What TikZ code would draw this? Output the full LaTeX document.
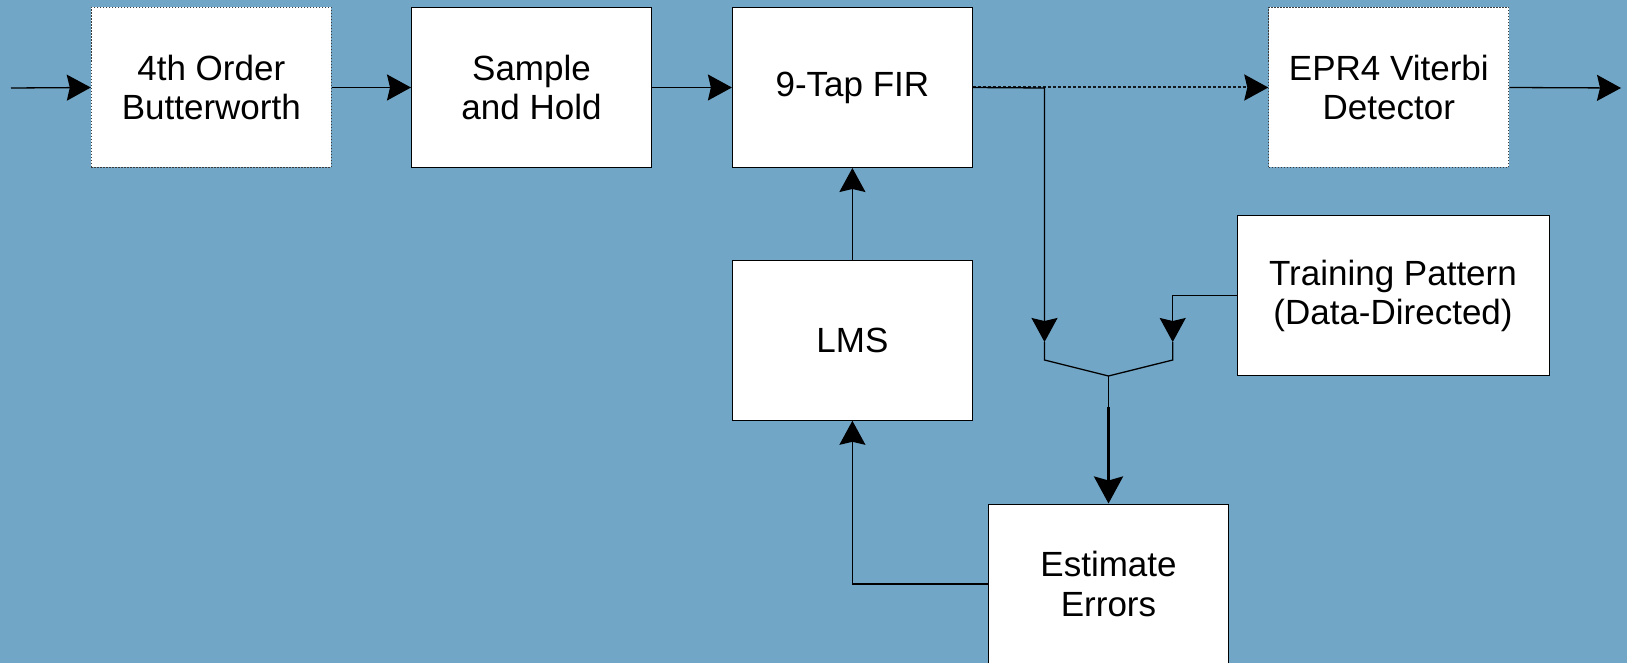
\documentclass[tikz,border=0pt]{standalone}
\usepackage{fontspec}
\newfontfamily\boxfont{Liberation Sans}
\usetikzlibrary{arrows.meta}
\definecolor{bgblue}{RGB}{114,166,198}
\definecolor{dotgray}{RGB}{60,60,60}
\tikzset{
  blk/.style={draw=black, line width=1pt, fill=white, minimum width=240pt, minimum height=160pt,
    inner sep=0pt, align=center, font=\boxfont\fontsize{35}{39.3}\selectfont},
  dotblk/.style={blk, draw=dotgray, dash pattern=on 1.5pt off 1.5pt},
  conn/.style={draw=black, line width=1.3pt},
  tip/.style={-{Stealth[length=24pt, width=26pt, inset=3pt, black]}},
  arr/.style={conn, tip},
  thickarr/.style={draw=black, line width=3pt, -{Stealth[length=27pt, width=29pt, inset=4pt]}},
  dotconn/.style={draw=black!85!bgblue, line width=2pt, dash pattern=on 3pt off 2pt}
}
\begin{document}
\begin{tikzpicture}[x=1pt, y=-1pt]
\useasboundingbox (0,0) rectangle (1627,663);
\fill[bgblue] (0,0) rectangle (1627,663);

\node[dotblk] (bw) at (211.3,87.5) {4th Order\\Butterworth};
\node[blk] (sh) at (531.5,87.5) {Sample\\and Hold};
\node[blk] (fir) at (852.4,87.5) {9-Tap FIR};
\node[dotblk] (vit) at (1388.8,87.5) {EPR4 Viterbi\\Detector};
\node[blk] (lms) at (852.4,340.3) {LMS};
\node[blk, minimum width=312pt] (tp) at (1393,295.7) {Training Pattern\\(Data-Directed)};
\node[blk] (ee) at (1108.5,584) {Estimate\\Errors};

\coordinate (in) at (11,88);
\coordinate (out) at (1621,88);
\coordinate (br) at (1044.5,88);
\coordinate (lt) at (1044.5,342);
\coordinate (ll) at (1044.5,360);
\coordinate (rt) at (1172.7,342);
\coordinate (rr) at (1172.7,360);
\coordinate (rc) at (1172.7,295.7);
\coordinate (mg) at (1108.5,376);
\coordinate (tk) at (1108.5,407);
\coordinate (fb) at (852.4,584);

\draw[arr] (in) -- (bw.west);
\draw[arr] (bw.east) -- (sh.west);
\draw[arr] (sh.east) -- (fir.west);
\draw[dotconn, tip] (fir.east) -- (vit.west);
\draw[arr] (vit.east) -- (out);
\draw[arr] (fir.east) -- (br) -- (lt);
\draw[arr] (tp.west) -- (rc) -- (rt);
\draw[conn] (lt) -- (ll) -- (mg) -- (rr) -- (rt);
\draw[conn] (mg) -- (tk);
\draw[thickarr] (tk) -- (ee.north);
\draw[arr] (ee.west) -- (fb) -- (lms.south);
\draw[arr] (lms.north) -- (fir.south);
\end{tikzpicture}
\end{document}
